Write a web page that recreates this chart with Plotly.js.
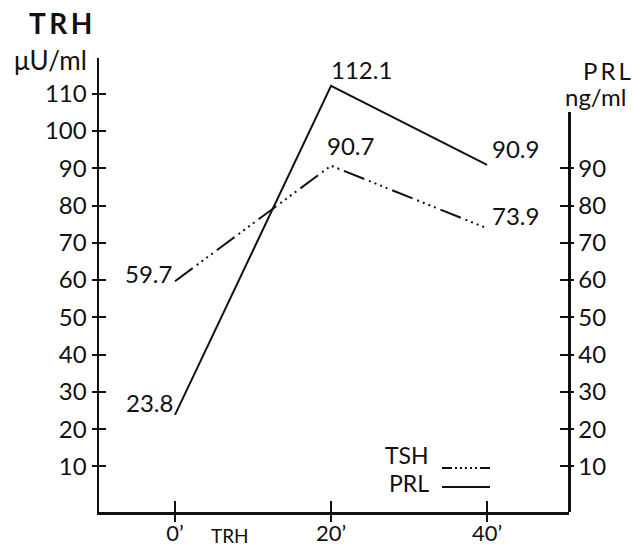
<!DOCTYPE html>
<html>
<head>
<meta charset="utf-8">
<script src="https://cdn.plot.ly/plotly-3.0.1.min.js"></script>
<style>
  html, body { margin: 0; padding: 0; background: #fff; }
  #chart { width: 632px; height: 548px; }
</style>
</head>
<body>
<div id="chart"></div>
<script>
// Minutes after TRH injection
const minutes = [0, 20, 40];
const minuteLabels = ["0\u2019", "20\u2019", "40\u2019"];

// Serum levels
const tshValues = [59.7, 90.7, 73.9];   // μU/ml
const prlValues = [23.8, 112.1, 90.9];  // ng/ml

// Axis ticks
const leftTicks = [10, 20, 30, 40, 50, 60, 70, 80, 90, 100, 110];
const rightTicks = [10, 20, 30, 40, 50, 60, 70, 80, 90];

const FONT = "Lato, 'Open Sans', sans-serif";
const INK = "#111";

// Plot box in pixels (used for placing titles / legend keys)
const W = 632, H = 548;
const M = { l: 99, r: 63, t: 58, b: 36 };
const PW = W - M.l - M.r, PH = H - M.t - M.b;
const px = x => (x - M.l) / PW;
const py = y => (H - M.b - y) / PH;

const Y_RANGE = [-2.25, 119.6];
const X_RANGE = [-9.74, 50.5];
// right axis is shorter than the left one but shares its scale
const rightTop = 105.1;
const rightDomainTop = (rightTop - Y_RANGE[0]) / (Y_RANGE[1] - Y_RANGE[0]);

const tshDash = "22px,5px,2px,4px,2px,4px,2px,4px,2px,5px";
const tshKeyDash = "10px,3px,2px,3px,2px,3px,2px,3px,2px,3px,2px,3px,10px,200px";

const traces = [
  {
    x: minutes, y: tshValues, name: "TSH", type: "scatter", mode: "lines",
    line: { color: INK, width: 2, dash: tshDash }, hoverinfo: "skip"
  },
  {
    x: minutes, y: prlValues, name: "PRL", type: "scatter", mode: "lines",
    line: { color: INK, width: 2 }, hoverinfo: "skip"
  }
];

// The PRL series is also attached, invisibly, to the helper axes so that
// their tick marks (the other half of each crossing tick) get drawn.
[["x2", "y3"], ["x", "y2"], ["x", "y4"]].forEach(([xa, ya]) => {
  traces.push({
    x: minutes, y: prlValues, xaxis: xa, yaxis: ya, type: "scatter", mode: "lines",
    line: { width: 0 }, opacity: 0, showlegend: false, hoverinfo: "skip"
  });
});

// value labels next to each point
const labelPlacement = {
  TSH: [
    { xanchor: "right", yanchor: "middle", xshift: -1, yshift: 8 },
    { xanchor: "left", yanchor: "bottom", xshift: -6, yshift: 4 },
    { xanchor: "left", yanchor: "bottom", xshift: 3, yshift: -4 }
  ],
  PRL: [
    { xanchor: "right", yanchor: "bottom", xshift: 0, yshift: -4 },
    { xanchor: "left", yanchor: "bottom", xshift: -2, yshift: 0 },
    { xanchor: "left", yanchor: "bottom", xshift: 3, yshift: 0 }
  ]
};

const annotations = [];
[["TSH", tshValues], ["PRL", prlValues]].forEach(([key, vals]) => {
  vals.forEach((v, i) => {
    annotations.push(Object.assign({
      x: minutes[i], y: v, xref: "x", yref: "y",
      text: v.toFixed(1), showarrow: false,
      font: { family: FONT, size: 24, color: INK }
    }, labelPlacement[key][i]));
  });
});

const titleFont = (size, weight) => ({ family: FONT, size: size, color: INK, weight: weight || "normal" });
const note = (x, y, text, font, xanchor) => ({
  xref: "paper", yref: "paper", x: px(x), y: py(y), text: text, showarrow: false,
  xanchor: xanchor || "center", yanchor: "middle", font: font
});
annotations.push(
  note(60, 23, "T\u2009R\u2009H", titleFont(28, "bold")),
  note(50, 60, "μU/ml", titleFont(26)),
  note(607, 70, "P\u2009R\u2009L", titleFont(24)),
  note(595, 96, "ng/ml", titleFont(24)),
  note(230, 535, "TRH", titleFont(19)),
  // legend text
  note(431, 455, "TSH", titleFont(23), "right"),
  note(431, 483, "PRL", titleFont(23), "right")
);

// legend keys
const shapes = [
  { type: "line", xref: "paper", yref: "paper", x0: px(442), x1: px(490), y0: py(468), y1: py(468),
    line: { color: INK, width: 2, dash: tshKeyDash } },
  { type: "line", xref: "paper", yref: "paper", x0: px(442), x1: px(490), y0: py(487), y1: py(487),
    line: { color: INK, width: 2 } }
];

const tickFont = { family: FONT, size: 24, color: INK };
const hidden = { showticklabels: false, showgrid: false, zeroline: false, showline: false, fixedrange: true };

const layout = {
  width: W, height: H,
  margin: M,
  paper_bgcolor: "#fff", plot_bgcolor: "rgba(0,0,0,0)",
  showlegend: false,
  font: { family: FONT, color: INK },
  xaxis: {
    range: X_RANGE, tickvals: minutes, ticktext: minuteLabels,
    showgrid: false, zeroline: false, showline: true, linecolor: INK, linewidth: 2.5,
    ticks: "outside", ticklen: 7, tickwidth: 2, tickcolor: INK,
    tickfont: { family: FONT, size: 22, color: INK }, ticklabelstandoff: -7,
    fixedrange: true
  },
  // inner halves of the x ticks
  xaxis2: Object.assign({
    overlaying: "x", anchor: "y", range: X_RANGE, tickvals: minutes,
    ticks: "inside", ticklen: 11, tickwidth: 2, tickcolor: INK
  }, hidden),
  yaxis: {
    range: Y_RANGE, tickvals: leftTicks,
    showgrid: false, zeroline: false, showline: true, linecolor: INK, linewidth: 2.5,
    ticks: "outside", ticklen: 5, tickwidth: 2, tickcolor: INK, tickfont: tickFont,
    fixedrange: true
  },
  yaxis3: Object.assign({
    overlaying: "y", anchor: "x2", range: Y_RANGE, tickvals: leftTicks,
    ticks: "inside", ticklen: 7, tickwidth: 2, tickcolor: INK
  }, hidden),
  yaxis2: {
    domain: [0, rightDomainTop], anchor: "free", position: 1, side: "right",
    range: [Y_RANGE[0], rightTop], tickvals: rightTicks,
    showgrid: false, zeroline: false, showline: true, linecolor: INK, linewidth: 2.5,
    ticks: "outside", ticklen: 3, tickwidth: 2, tickcolor: INK, tickfont: tickFont,
    fixedrange: true
  },
  yaxis4: Object.assign({
    overlaying: "y2", anchor: "free", position: 1, side: "right",
    range: [Y_RANGE[0], rightTop], tickvals: rightTicks,
    ticks: "inside", ticklen: 9, tickwidth: 2, tickcolor: INK
  }, hidden),
  annotations: annotations,
  shapes: shapes
};

Plotly.newPlot("chart", traces, layout, { staticPlot: true, displayModeBar: false });
</script>
</body>
</html>
